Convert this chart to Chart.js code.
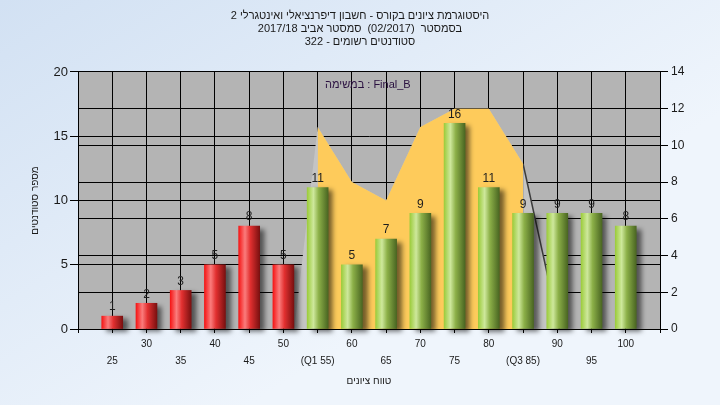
<!DOCTYPE html>
<html>
<head>
<meta charset="utf-8">
<script src="https://cdn.jsdelivr.net/npm/chart.js@4.4.0/dist/chart.umd.min.js"></script>
<style>
  html, body { margin: 0; padding: 0; }
  #wrap { width: 720px; height: 405px; }
</style>
</head>
<body>
<div id="wrap"><canvas id="histChart" width="720" height="405"></canvas></div>
<script>
const FONT = '"Liberation Sans", Arial, sans-serif';

const titleLines = [
  'היסטוגרמת ציונים בקורס - חשבון דיפרנציאלי ואינטגרלי 2',
  'בסמסטר  (02/2017)  סמסטר אביב 2017/18',
  'סטודנטים רשומים - 322'
];
const legendText = 'במשימה : Final_B';
const xTitle = 'טווח ציונים';
const yTitle = 'מספר סטודנטים';

const scores = [25, 30, 35, 40, 45, 50, 55, 60, 65, 70, 75, 80, 85, 90, 95, 100];
const scoreLabels = ['25', '30', '35', '40', '45', '50', '(Q1 55)', '60', '65', '70', '75', '80', '(Q3 85)', '90', '95', '100'];
const counts = [1, 2, 3, 5, 8, 5, 11, 5, 7, 9, 16, 11, 9, 9, 9, 8];
const q1 = 55;

// yellow band between Q1 and Q3 (right axis)
const bandScores = [55, 60, 65, 70, 75, 80, 85];
const bandValues = [11, 8, 7, 11, 12, 12, 9];
// light grey back face of the band
const backScores = [51.6, 55, 60, 65, 70, 75, 80, 85, 90.3];
const backValues = [0, 11, 8, 7, 11, 12, 12, 9, 0];

const xTicks = [20, ...scores, 105];
const BAR_W = 21;

function barFill(c) {
  const chart = c.chart;
  const i = c.dataIndex;
  if (!chart.chartArea || i === undefined) return '#c03030';
  const cx = chart.scales.x.getPixelForValue(scores[i]);
  const g = chart.ctx.createLinearGradient(cx - BAR_W / 2, 0, cx + BAR_W / 2, 0);
  if (scores[i] < q1) {
    g.addColorStop(0, '#f51616');
    g.addColorStop(0.3, '#fa7c7c');
    g.addColorStop(0.55, '#e23030');
    g.addColorStop(1, '#7a1010');
  } else {
    g.addColorStop(0, '#9ccc3c');
    g.addColorStop(0.3, '#cee89c');
    g.addColorStop(0.55, '#8cb048');
    g.addColorStop(1, '#4a6622');
  }
  return g;
}

const backdrop = {
  id: 'backdrop',
  beforeDraw(chart) {
    const { ctx, chartArea: a } = chart;
    ctx.save();
    const g = ctx.createLinearGradient(0, 0, 250, 405);
    g.addColorStop(0, '#d2e1f3');
    g.addColorStop(1, '#eff5fc');
    ctx.fillStyle = g;
    ctx.fillRect(0, 0, chart.width, chart.height);
    ctx.fillStyle = '#b4b4b4';
    ctx.fillRect(a.left, a.top, a.right - a.left, a.bottom - a.top);
    ctx.restore();
  }
};

const barShadow = {
  id: 'barShadow',
  beforeDatasetDraw(chart, args) {
    if (args.index !== 0) return;
    const ctx = chart.ctx;
    ctx.save();
    ctx.shadowColor = 'rgba(0,0,0,0.55)';
    ctx.shadowBlur = 5;
    ctx.shadowOffsetX = 5;
    ctx.shadowOffsetY = 3;
  },
  afterDatasetDraw(chart, args) {
    if (args.index !== 0) return;
    chart.ctx.restore();
  }
};

const textPlugin = {
  id: 'textPlugin',
  afterDatasetsDraw(chart) {
    const { ctx, chartArea: a } = chart;
    ctx.save();
    ctx.font = '12px ' + FONT;
    ctx.fillStyle = '#1e1e1e';
    ctx.textAlign = 'center';
    ctx.textBaseline = 'bottom';
    chart.getDatasetMeta(0).data.forEach((bar, i) => {
      ctx.fillText(String(counts[i]), bar.x, bar.y - 3);
    });
    // legend line inside the plot
    ctx.font = '11px ' + FONT;
    ctx.fillStyle = '#2a1040';
    ctx.textAlign = 'left';
    ctx.textBaseline = 'middle';
    ctx.fillText(legendText, a.left + 247, a.top + 13);
    ctx.restore();
  }
};

const ctx = document.getElementById('histChart').getContext('2d');

new Chart(ctx, {
  data: {
    datasets: [
      {
        type: 'bar',
        label: 'counts',
        data: counts.map((c, i) => ({ x: scores[i], y: c })),
        yAxisID: 'y',
        order: 1,
        barThickness: BAR_W,
        backgroundColor: barFill,
        borderWidth: 0,
        clip: false
      },
      {
        type: 'line',
        label: 'band',
        data: bandScores.map((s, i) => ({ x: s, y: bandValues[i] })),
        yAxisID: 'y2',
        order: 2,
        fill: 'origin',
        backgroundColor: '#fecb5b',
        borderColor: 'rgba(0,0,0,0)',
        borderWidth: 0,
        pointRadius: 0,
        tension: 0
      },
      {
        type: 'line',
        label: 'back',
        data: backScores.map((s, i) => ({ x: s, y: backValues[i] })),
        yAxisID: 'y2',
        order: 3,
        fill: 'origin',
        backgroundColor: '#c4c4c4',
        borderWidth: 1.5,
        segment: {
          borderColor: c => c.p0DataIndex === backScores.length - 2 ? '#3c3c3c' : 'rgba(0,0,0,0)'
        },
        pointRadius: 0,
        tension: 0
      }
    ]
  },
  options: {
    responsive: false,
    animation: false,
    layout: { padding: 0 },
    plugins: {
      legend: { display: false },
      tooltip: { enabled: false },
      title: {
        display: true,
        text: titleLines,
        color: '#1a1a1a',
        font: { family: FONT, size: 11, weight: 'normal', lineHeight: 1.15 },
        padding: { top: 10, bottom: 24 }
      }
    },
    scales: {
      x: {
        type: 'linear',
        position: 'bottom',
        min: 20,
        max: 105,
        offset: false,
        afterBuildTicks: s => { s.ticks = xTicks.map(v => ({ value: v })); },
        afterFit: s => { s.height = 76; },
        ticks: {
          autoSkip: false,
          maxRotation: 0,
          padding: 3,
          color: '#1a1a1a',
          font: { family: FONT, size: 10, lineHeight: 1.7 },
          callback: v => {
            const i = scores.indexOf(v);
            if (i < 0) return '';
            return i % 2 ? [scoreLabels[i]] : ['', scoreLabels[i]];
          }
        },
        grid: { offset: false, color: '#000', lineWidth: 1, tickLength: 4, tickColor: '#000' },
        border: { color: '#000', width: 1 },
        title: {
          display: true,
          text: xTitle,
          color: '#1a1a1a',
          font: { family: FONT, size: 10 },
          padding: { top: 0, bottom: 18 }
        }
      },
      y: {
        position: 'left',
        min: 0,
        max: 20,
        afterFit: s => { s.width = 78; },
        ticks: {
          stepSize: 5,
          padding: 2,
          color: '#1a1a1a',
          font: { family: FONT, size: 13 }
        },
        grid: { color: '#000', lineWidth: 1, tickLength: 8, tickColor: '#000' },
        border: { color: '#000', width: 1 },
        title: {
          display: true,
          text: yTitle,
          color: '#1a1a1a',
          font: { family: FONT, size: 10 },
          padding: { top: 29, bottom: 0 }
        }
      },
      y2: {
        position: 'right',
        min: 0,
        max: 14,
        afterFit: s => { s.width = 60; },
        ticks: {
          stepSize: 2,
          padding: 3,
          color: '#1a1a1a',
          font: { family: FONT, size: 12 }
        },
        grid: { color: '#000', lineWidth: 1, tickLength: 8, tickColor: '#000', drawOnChartArea: true },
        border: { color: '#000', width: 1 }
      }
    }
  },
  plugins: [backdrop, barShadow, textPlugin]
});
</script>
</body>
</html>
